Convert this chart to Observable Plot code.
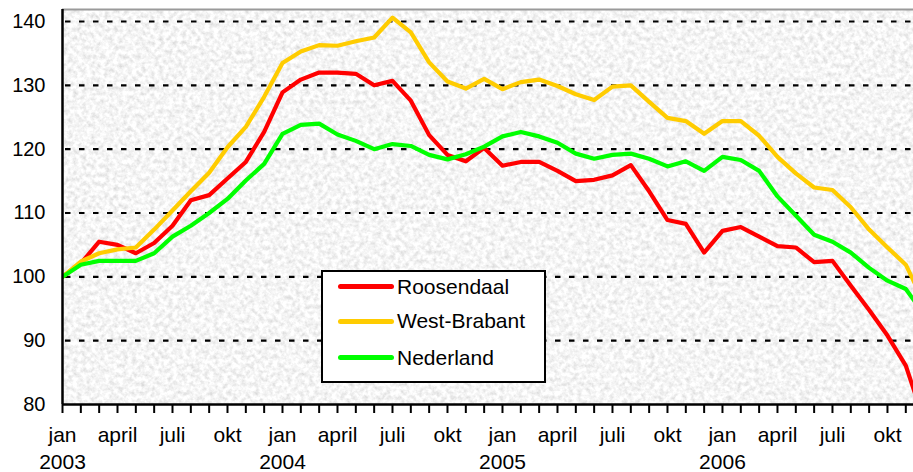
<!DOCTYPE html>
<html><head><meta charset="utf-8">
<script src="https://cdn.jsdelivr.net/npm/d3@7"></script>
<script src="https://cdn.jsdelivr.net/npm/@observablehq/plot@0.6"></script>
<style>
html,body{margin:0;padding:0;background:#fff;overflow:hidden;}
#wrap{position:relative;width:913px;height:472px;font-family:"Liberation Sans",Arial,sans-serif;}
#legend{position:absolute;left:321px;top:270px;width:225px;height:113px;box-sizing:border-box;background:#fff;border:2px solid #000;}
.item{position:absolute;left:15px;height:24px;display:flex;align-items:center;font-size:21px;color:#000;white-space:nowrap;}
.swatch{width:56px;height:5px;border-radius:3px;margin-right:3px;}
</style></head><body><div id="wrap"></div>
<script>
// ---- data ----
const years = [2003, 2004, 2005, 2006];
const monthLabels = ["jan", "", "", "april", "", "", "juli", "", "", "okt", "", ""];
const seriesNames = ["Roosendaal", "West-Brabant", "Nederland"];
const seriesColors = ["#ff0000", "#ffcc00", "#00ff00"];
const yTicks = [80, 90, 100, 110, 120, 130, 140];
const gridTicks = [90, 100, 110, 120, 130, 140];

const roosendaal = [100, 102.1, 105.5, 105.0, 103.7, 105.3, 108.0, 112.0, 112.8, 115.4, 118.0, 122.7,
  128.9, 130.9, 132.0, 132.0, 131.8, 130.0, 130.7, 127.6, 122.2, 119.1, 118.1, 120.2,
  117.4, 118.0, 118.0, 116.6, 115.0, 115.2, 115.9, 117.5, 113.4, 108.9, 108.3, 103.8,
  107.2, 107.8, 106.3, 104.8, 104.6, 102.3, 102.5, 98.6, 94.8, 90.8, 86.1, 77.4];
const westBrabant = [100, 102.4, 103.7, 104.3, 104.6, 107.4, 110.4, 113.4, 116.3, 120.3, 123.5, 128.2,
  133.5, 135.3, 136.3, 136.2, 136.9, 137.5, 140.6, 138.3, 133.6, 130.6, 129.5, 131.0,
  129.4, 130.5, 130.9, 129.9, 128.6, 127.7, 129.8, 130.0, 127.4, 124.9, 124.4, 122.4,
  124.4, 124.4, 122.1, 118.8, 116.2, 114.0, 113.6, 110.9, 107.4, 104.6, 101.9, 95.9];
const nederland = [100, 101.9, 102.5, 102.5, 102.5, 103.7, 106.3, 108.0, 110.0, 112.2, 115.1, 117.7,
  122.4, 123.8, 124.0, 122.3, 121.3, 120.0, 120.8, 120.5, 119.1, 118.4, 119.2, 120.4,
  122.0, 122.7, 122.0, 121.0, 119.3, 118.5, 119.1, 119.3, 118.5, 117.3, 118.1, 116.6,
  118.8, 118.3, 116.6, 112.6, 109.6, 106.6, 105.5, 103.8, 101.4, 99.4, 98.1, 94.1];

// ---- build ----
const seriesValues = [roosendaal, westBrabant, nederland];
const data = [];
seriesValues.forEach((arr, s) => arr.forEach((v, i) => data.push({i, v, s: seriesNames[s]})));

const xMax = 46.42;   // visible extent (chart is cut at the right edge)
const yMax = 141.88;
const monthIdx = d3.range(years.length * 12).filter(i => i <= xMax);
const labelIdx = monthIdx.filter(i => monthLabels[i % 12] !== "");
const yearIdx = monthIdx.filter(i => i % 12 === 0);

const chart = Plot.plot({
  width: 913, height: 472,
  marginLeft: 62, marginRight: 0, marginTop: 9, marginBottom: 68,
  style: {fontFamily: "'Liberation Sans', Arial, sans-serif", color: "#000", background: "transparent"},
  x: {domain: [0, xMax], axis: null},
  y: {domain: [80, yMax], axis: null},
  color: {domain: seriesNames, range: seriesColors},
  marks: [
    Plot.frame({fill: "#e8e8e8", stroke: null}),
    Plot.gridY(gridTicks, {stroke: "#000", strokeOpacity: 1, strokeWidth: 2.2, strokeDasharray: "5.5,8.5", strokeDashoffset: -3}),
    Plot.line(data, {x: "i", y: "v", z: "s", stroke: "s", strokeWidth: 4.2, strokeLinejoin: "round", clip: true}),
    Plot.ruleY([yMax], {stroke: "#9a9a9a", strokeWidth: 2}),
    Plot.ruleX([0], {stroke: "#000", strokeWidth: 2.5}),
    Plot.ruleY([80], {stroke: "#000", strokeWidth: 2.5}),
    Plot.axisX(monthIdx, {tickSize: 9, strokeWidth: 2, stroke: "#000", tickFormat: () => "", label: null}),
    Plot.axisX(labelIdx, {tickSize: 0, tickPadding: 23, fontSize: 21, label: null, tickFormat: i => monthLabels[i % 12]}),
    Plot.axisX(yearIdx, {tickSize: 0, tickPadding: 50, fontSize: 21, label: null, tickFormat: i => String(years[i / 12])}),
    Plot.axisY(yTicks, {tickSize: 0, tickPadding: 17, fontSize: 20, label: null})
  ]
});

// paper-like texture on the plot area
const ns = "http://www.w3.org/2000/svg";
const defs = document.createElementNS(ns, "defs");
defs.innerHTML = `<filter id="paper" x="0" y="0" width="1" height="1">
  <feTurbulence type="fractalNoise" baseFrequency="0.22" numOctaves="3" seed="7"/>
  <feColorMatrix type="matrix" values="0.55 0 0 0 0.64  0.55 0 0 0 0.64  0.55 0 0 0 0.64  0 0 0 0 1"/>
</filter>`;
chart.insertBefore(defs, chart.firstChild);
let fr = chart.querySelector('[aria-label="frame"]');
if (fr && fr.tagName.toLowerCase() !== "rect") fr = fr.querySelector("rect");
if (fr) fr.setAttribute("filter", "url(#paper)");

const wrap = document.getElementById("wrap");
wrap.appendChild(chart);

// legend inside the plot
const legend = document.createElement("div");
legend.id = "legend";
const rowTops = [2.7, 37.3, 73.7];
seriesNames.forEach((name, k) => {
  const it = document.createElement("div");
  it.className = "item";
  it.style.top = rowTops[k] + "px";
  const sw = document.createElement("span");
  sw.className = "swatch";
  sw.style.background = seriesColors[k];
  const tx = document.createElement("span");
  tx.textContent = name;
  it.appendChild(sw); it.appendChild(tx);
  legend.appendChild(it);
});
wrap.appendChild(legend);
</script></body></html>
